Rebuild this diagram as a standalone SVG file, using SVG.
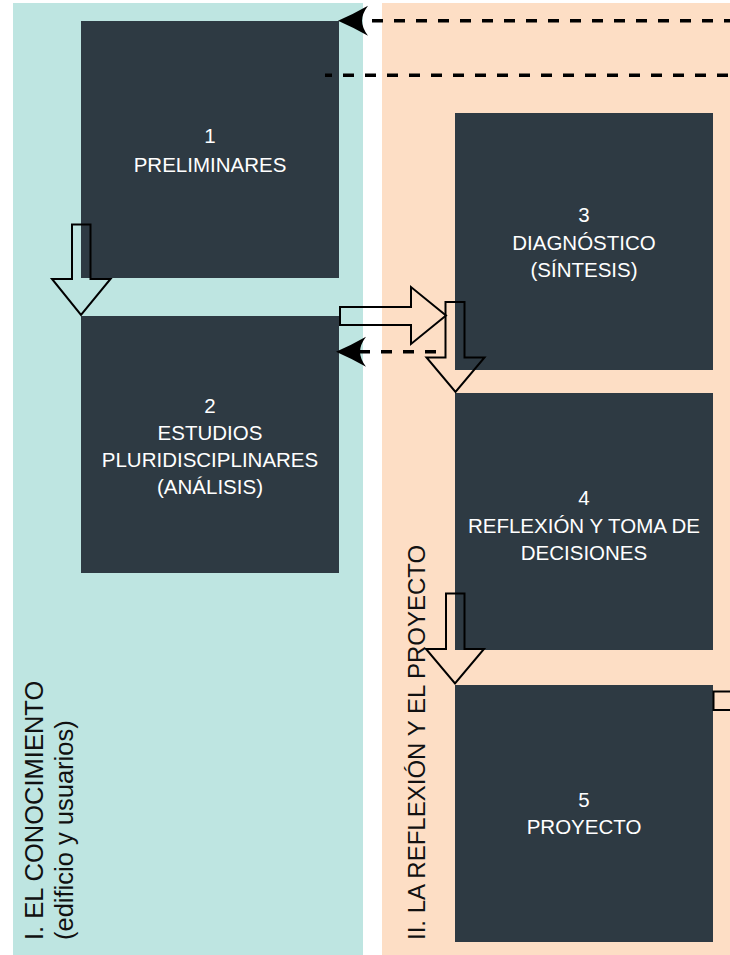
<svg xmlns="http://www.w3.org/2000/svg" width="730" height="955" viewBox="0 0 730 955">
  <defs>
    <style>
      .zone-a { fill: #bee5e1; }
      .zone-b { fill: #fddec5; }
      .box { fill: #2e3a43; }
      .box-text { font-family: "Liberation Sans", Arial, sans-serif; font-size: 20.5px; fill: #ffffff; text-anchor: middle; }
      .phase { font-family: "Liberation Sans", Arial, sans-serif; font-size: 25.5px; fill: #111111; }
      .phase-b { font-size: 24px; }
      .block { fill: none; stroke: #000000; stroke-width: 2; stroke-linejoin: miter; }
      .dash { fill: none; stroke: #000000; stroke-width: 3.5; stroke-dasharray: 11 11; }
    </style>
    <marker id="head" markerUnits="userSpaceOnUse" markerWidth="32" markerHeight="32" refX="6" refY="15" orient="auto">
      <path d="M30,15 Q14,8 0,0 Q6,8 6,15 Q6,22 0,30 Q14,22 30,15 Z" fill="#000000"/>
    </marker>
  </defs>

  <!-- phase backgrounds -->
  <rect class="zone-a" x="13" y="3" width="350" height="952"/>
  <rect class="zone-b" x="382" y="3" width="348" height="952"/>

  <g id="phase-1">
    <text class="phase" transform="translate(43,940) rotate(-90)">I. EL CONOCIMIENTO</text>
    <text class="phase" transform="translate(73,940) rotate(-90)">(edificio y usuarios)</text>
  </g>
  <g id="phase-2">
    <text class="phase phase-b" transform="translate(425,940) rotate(-90)">II. LA REFLEXIÓN Y EL PROYECTO</text>
  </g>

  <g id="node-1">
    <rect class="box" x="81" y="21" width="258" height="257"/>
    <text class="box-text" x="210" y="143">1</text>
    <text class="box-text" x="210" y="171.5">PRELIMINARES</text>
  </g>
  <g id="node-2">
    <rect class="box" x="81" y="316" width="258" height="257"/>
    <text class="box-text" x="210" y="413">2</text>
    <text class="box-text" x="210" y="440">ESTUDIOS</text>
    <text class="box-text" x="210" y="467">PLURIDISCIPLINARES</text>
    <text class="box-text" x="210" y="494">(ANÁLISIS)</text>
  </g>
  <g id="node-3">
    <rect class="box" x="455" y="113" width="258" height="257"/>
    <text class="box-text" x="584" y="222">3</text>
    <text class="box-text" x="584" y="249.5">DIAGNÓSTICO</text>
    <text class="box-text" x="584" y="277">(SÍNTESIS)</text>
  </g>
  <g id="node-4">
    <rect class="box" x="455" y="393" width="258" height="257"/>
    <text class="box-text" x="584" y="505">4</text>
    <text class="box-text" x="584" y="532.5">REFLEXIÓN Y TOMA DE</text>
    <text class="box-text" x="584" y="560">DECISIONES</text>
  </g>
  <g id="node-5">
    <rect class="box" x="455" y="685" width="258" height="257"/>
    <text class="box-text" x="584" y="807">5</text>
    <text class="box-text" x="584" y="834">PROYECTO</text>
  </g>

  <g id="connectors">
    <!-- hollow block arrows -->
    <path class="block" d="M72,224.5 H90.5 V279 H110.5 L81,315 L52,279 H72 Z"/>
    <path class="block" d="M340,307 H411 V287 L446,315.5 L411,344 V325 H340 Z"/>
    <path class="block" d="M445.5,302 H464.5 V357.5 H484.5 L455.5,392 L426.5,357.5 H445.5 Z"/>
    <path class="block" d="M446,593.5 H464.5 V649 H484 L455,683.5 L426,649 H446 Z"/>
    <path class="block" d="M731,691.5 H713.5 V710 H731"/>
    <!-- dashed feedback lines -->
    <path class="dash" d="M730,20.7 H362" marker-end="url(#head)" stroke-dashoffset="5"/>
    <path class="dash" d="M325,75.3 H730" stroke-dashoffset="4"/>
    <path class="dash" d="M436,351.7 H360" marker-end="url(#head)"/>
  </g>
</svg>
